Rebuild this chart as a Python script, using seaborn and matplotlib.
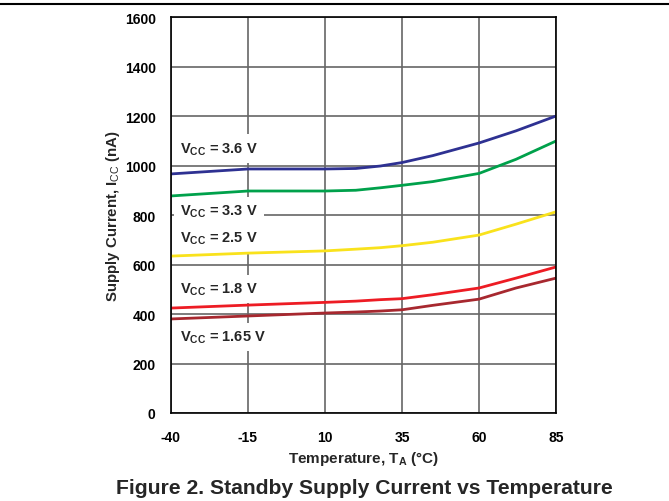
import matplotlib
matplotlib.use("Agg")
import matplotlib.pyplot as plt
import seaborn as sns
import pandas as pd

# Ambient temperature sample points (°C)
temperature = [-40, -15, 10, 20, 28, 35, 45, 60, 72, 85]

# Standby supply current (nA) for each supply voltage
icc_3v6 = [966, 986, 986, 988, 998, 1012, 1040, 1091, 1140, 1200]
icc_3v3 = [877, 897, 897, 900, 910, 920, 935, 968, 1025, 1099]
icc_2v5 = [634, 646, 655, 662, 668, 676, 690, 719, 763, 813]
icc_1v8 = [424, 436, 447, 452, 458, 462, 478, 505, 545, 590]
icc_1v65 = [380, 392, 404, 408, 412, 417, 435, 460, 505, 545]

series_names = ["3.6 V", "3.3 V", "2.5 V", "1.8 V", "1.65 V"]
series_values = [icc_3v6, icc_3v3, icc_2v5, icc_1v8, icc_1v65]
series_colors = ["#2e3192", "#00a14b", "#f9e21c", "#ed1c24", "#a7282f"]

# Label anchor positions (temperature, current) for the in-plot annotations
label_pos = {
    "3.6 V": (-37, 1067),
    "3.3 V": (-37, 816),
    "2.5 V": (-37, 707),
    "1.8 V": (-37, 501),
    "1.65 V": (-37, 307),
}

x_ticks = [-40, -15, 10, 35, 60, 85]
y_ticks = [0, 200, 400, 600, 800, 1000, 1200, 1400, 1600]

rows = []
for name, vals in zip(series_names, series_values):
    for t, v in zip(temperature, vals):
        rows.append({"Temperature": t, "Icc": v, "Vcc": name})
df = pd.DataFrame(rows)

sns.set_theme(style="white")
plt.rcParams["font.family"] = ["Liberation Sans", "DejaVu Sans"]
plt.rcParams["mathtext.fontset"] = "custom"
plt.rcParams["mathtext.rm"] = "Liberation Sans"
plt.rcParams["mathtext.it"] = "Liberation Sans:italic"
plt.rcParams["mathtext.bf"] = "Liberation Sans:bold"

fig = plt.figure(figsize=(6.69, 5.02), dpi=100)
ax = fig.add_axes([0.2556, 0.1753, 0.5755, 0.7888])

sns.lineplot(
    data=df, x="Temperature", y="Icc", hue="Vcc",
    hue_order=series_names, palette=dict(zip(series_names, series_colors)),
    linewidth=2.0, legend=False, ax=ax, zorder=3,
)

ax.set_xlim(-40, 85)
ax.set_ylim(0, 1600)
ax.set_xticks(x_ticks)
ax.set_yticks(y_ticks)
ax.set_xticklabels([str(v) for v in x_ticks], fontweight="bold", fontsize=10)
ax.set_yticklabels([str(v) for v in y_ticks], fontweight="bold", fontsize=10)
ax.tick_params(axis="x", length=0, pad=12, colors="black")
ax.tick_params(axis="y", length=0, pad=11, colors="black")

ax.grid(True, color="#666666", linewidth=1.2, zorder=0)
ax.set_axisbelow(True)
for s in ax.spines.values():
    s.set_color("black")
    s.set_linewidth(1.2)
    s.set_zorder(4)

ax.set_xlabel(r"Temperature, T$_\mathbf{A}$ (°C)", fontweight="bold",
              fontsize=11, labelpad=4)
ax.xaxis.label.set_fontstretch("expanded")
ax.set_ylabel(r"Supply Current, I$_\mathrm{CC}$ (nA)", fontweight="bold",
              fontsize=10.8, labelpad=2)

for name in series_names:
    x, y = label_pos[name]
    ax.text(x, y, r"$\mathbf{V_{CC}}$ = " + name, fontsize=10.5,
            fontweight="bold", va="center", ha="left", zorder=2.5,
            bbox=dict(facecolor="white", edgecolor="none", pad=4.5))

# Rule across the top of the page
fig.add_artist(plt.Line2D([0, 1], [0.991, 0.991], color="black",
                          linewidth=1.5, transform=fig.transFigure))

fig.text(0.545, 0.026, "Figure 2. Standby Supply Current vs Temperature",
         ha="center", va="center", fontsize=15.2, fontweight="bold")

fig.savefig("out.png", dpi=100)
